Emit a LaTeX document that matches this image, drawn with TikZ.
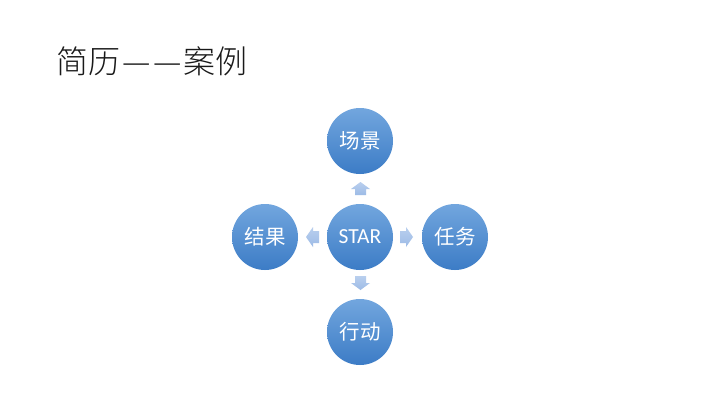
\documentclass[tikz,border=0pt]{standalone}
\usepackage{fontspec}
\setmainfont{Carlito}
\newfontfamily\cjk{Noto Sans CJK SC}
\newfontfamily\cjklight{Noto Sans CJK SC Light}
\begin{document}
\begin{tikzpicture}[x=1pt,y=-1pt,
  ball/.style={circle, minimum size=66pt, inner sep=0pt, top color=blue1, bottom color=blue2, draw=none, text=white, font=\fontsize{20.5}{20.5}\selectfont},
  barrow/.style={top color=arrowA, bottom color=arrowB, draw=none}]
\definecolor{blue1}{HTML}{72A6DE}
\definecolor{blue2}{HTML}{3C7CC6}
\definecolor{arrowA}{HTML}{B9CFEE}
\definecolor{arrowB}{HTML}{9DBBE6}
\useasboundingbox (0,0) rectangle (720,405);
\fill[white] (0,0) rectangle (720,405);
\node[anchor=west, inner sep=0pt, font=\cjklight\fontsize{32}{32}\selectfont, text=black!90] (title) at (56,61) {简历\hspace{2pt}—\hspace{3pt}—\hspace{2pt}案例};
\node[ball] (c) at (360,237) {\fontsize{21.5}{21.5}\selectfont STAR};
\node[ball] (t) at (360,141) {\cjk 场景};
\node[ball] (b) at (360,332) {\cjk 行动};
\node[ball] (l) at (265,237) {\cjk 结果};
\node[ball] (r) at (455,237) {\cjk 任务};
% up arrow
\shade[barrow] (355,195) -- (355,189) -- (351,189) -- (360.5,182) -- (370,189) -- (366,189) -- (366,195) -- cycle;
% down arrow
\shade[barrow] (355,276) -- (355,283) -- (351,283) -- (360.5,290) -- (370,283) -- (366,283) -- (366,276) -- cycle;
% right arrow
\shade[barrow] (400,231) -- (406,231) -- (406,227) -- (413,237) -- (406,247) -- (406,243) -- (400,243) -- cycle;
% left arrow
\shade[barrow] (319,231) -- (313,231) -- (313,227) -- (306,237) -- (313,247) -- (313,243) -- (319,243) -- cycle;
\end{tikzpicture}
\end{document}
